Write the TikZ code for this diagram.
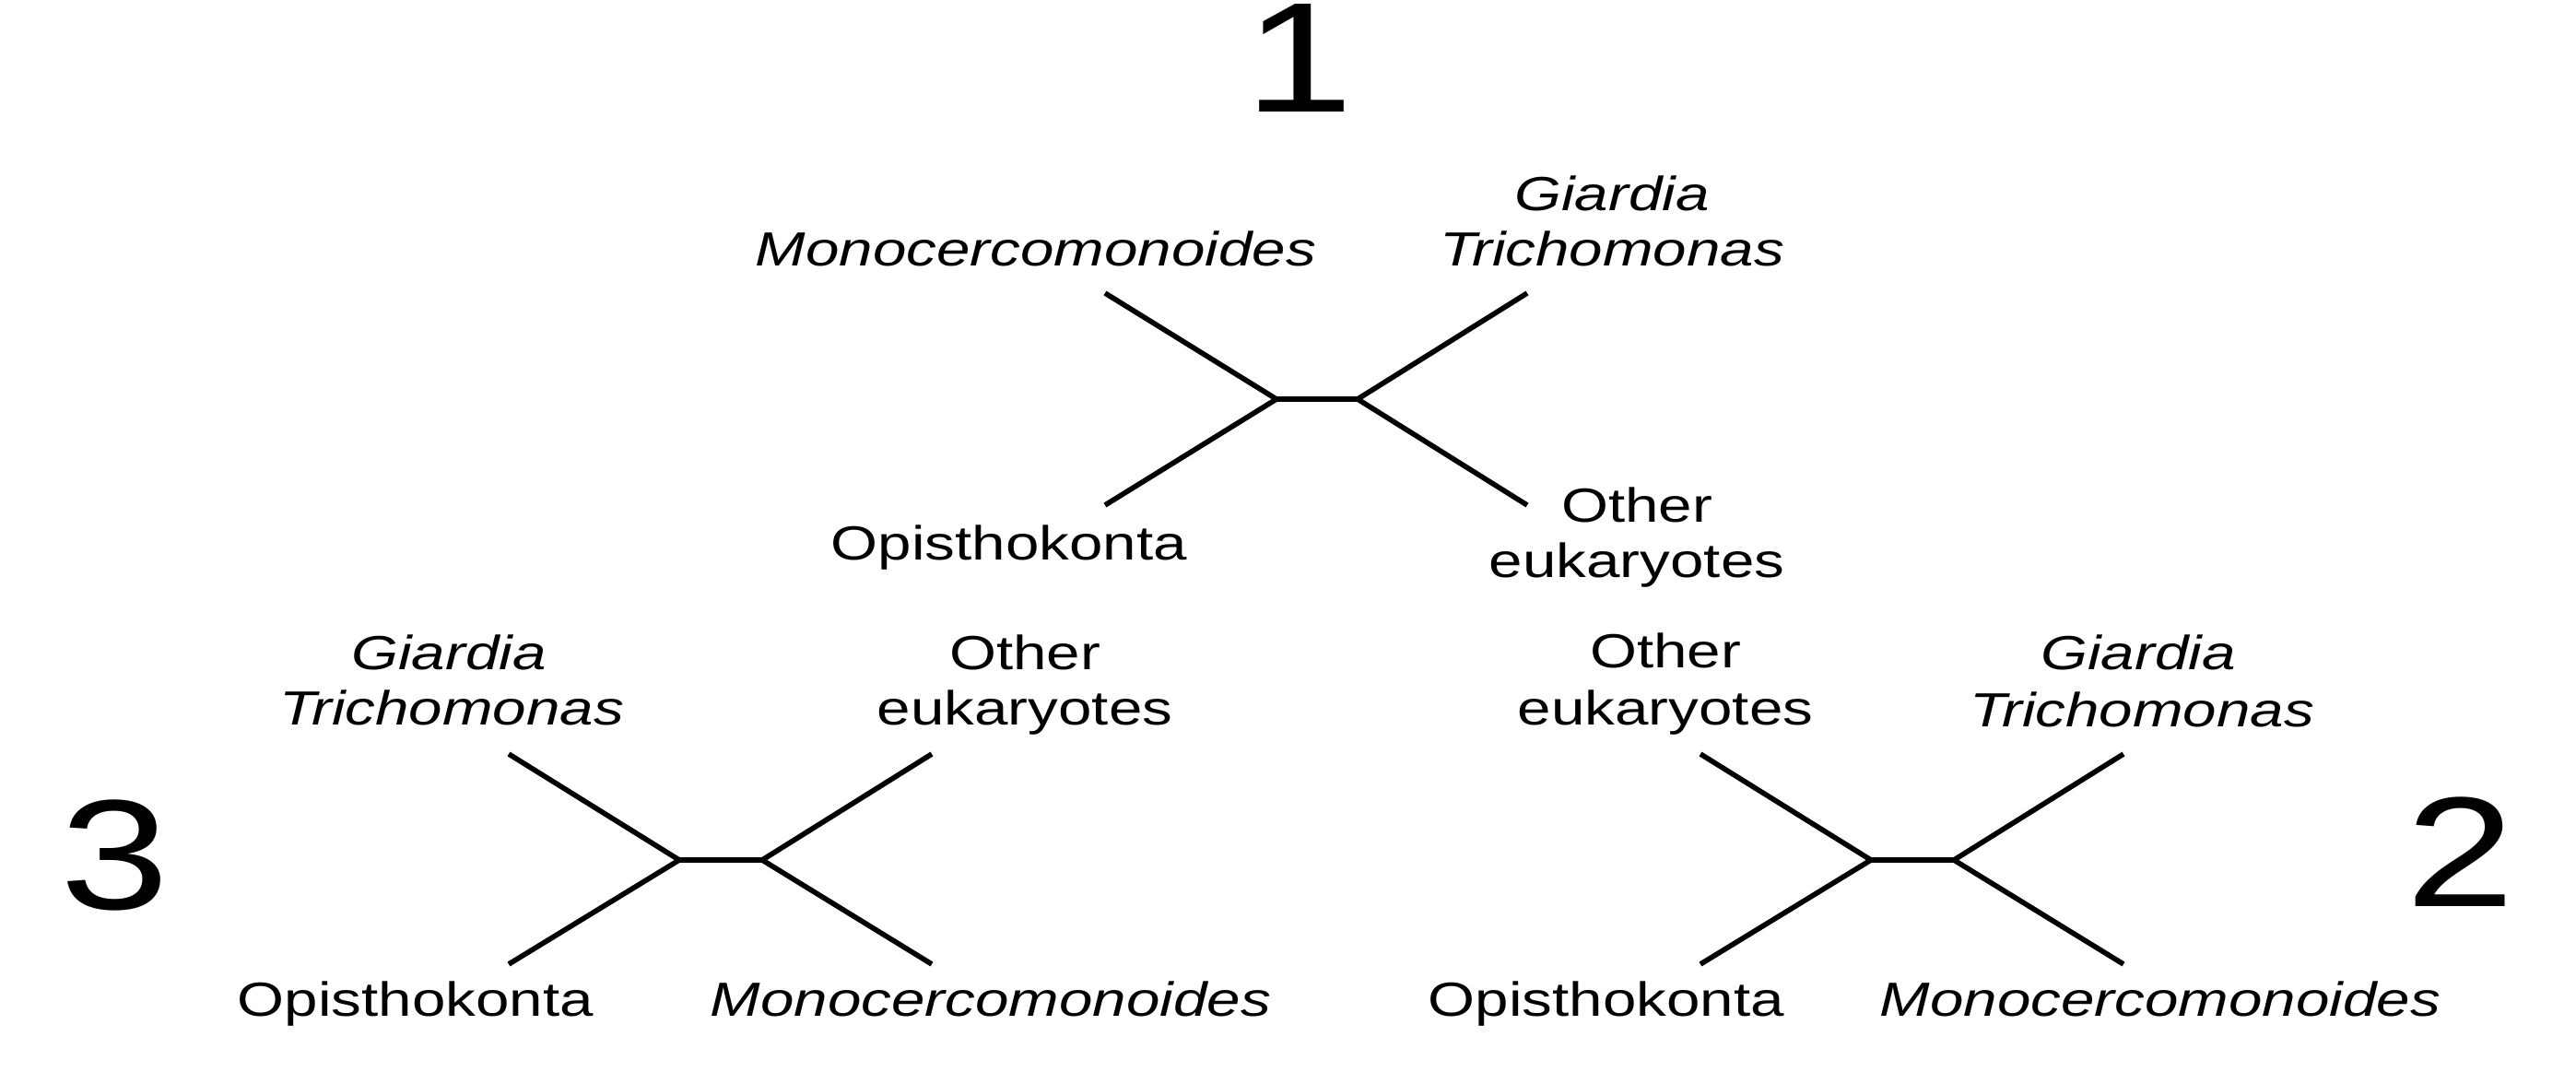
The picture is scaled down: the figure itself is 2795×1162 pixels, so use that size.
\documentclass[tikz,border=0pt]{standalone}
\usepackage{fontspec}
\setmainfont{Liberation Sans}
\newcommand{\hstretch}[1]{\scalebox{1.26}[1]{#1}}
\newcommand{\dstretch}[1]{\scalebox{1.25}[1]{#1}}
\tikzset{
  br/.style={line width=2.8pt, line join=miter, line cap=butt},
  lab/.style={anchor=base, inner sep=0pt, font=\fontsize{26}{30}\selectfont},
  num/.style={anchor=base, inner sep=0pt, font=\fontsize{85}{90}\selectfont},
}
\begin{document}
\begin{tikzpicture}[x=0.5pt,y=-0.5pt]
\useasboundingbox (0,0) rectangle (2795,1162);
% ---------- tree 1 ----------
\coordinate (a1) at (1385,433);
\coordinate (b1) at (1473,433);
\coordinate (a1u) at (1199,318);
\coordinate (a1d) at (1199,548);
\coordinate (b1u) at (1657,318);
\coordinate (b1d) at (1657,548);
\draw[br] (a1u) -- (a1) -- (a1d);
\draw[br] (b1u) -- (b1) -- (b1d);
\draw[br] (a1) -- (b1);
\node[num] (n1) at (1410,121) {\dstretch{1}};
\node[lab] (t1m) at (1124,288) {\hstretch{\itshape Monocercomonoides}};
\node[lab] (t1g) at (1749,228) {\hstretch{\itshape Giardia}};
\node[lab] (t1t) at (1749,288) {\hstretch{\itshape Trichomonas}};
\node[lab] (t1o) at (1095,607) {\hstretch{Opisthokonta}};
\node[lab] (t1e1) at (1776,566) {\hstretch{Other}};
\node[lab] (t1e2) at (1776,626) {\hstretch{eukaryotes}};
% ---------- tree 3 ----------
\coordinate (a3) at (737,933);
\coordinate (b3) at (827,933);
\coordinate (a3u) at (552,818);
\coordinate (a3d) at (552,1046);
\coordinate (b3u) at (1011,818);
\coordinate (b3d) at (1011,1046);
\draw[br] (a3u) -- (a3) -- (a3d);
\draw[br] (b3u) -- (b3) -- (b3d);
\draw[br] (a3) -- (b3);
\node[num] (n3) at (125,986) {\dstretch{3}};
\node[lab] (t3g) at (487,726) {\hstretch{\itshape Giardia}};
\node[lab] (t3t) at (490,786) {\hstretch{\itshape Trichomonas}};
\node[lab] (t3e1) at (1112,726) {\hstretch{Other}};
\node[lab] (t3e2) at (1112,786) {\hstretch{eukaryotes}};
\node[lab] (t3o) at (451,1102) {\hstretch{Opisthokonta}};
\node[lab] (t3m) at (1075,1102) {\hstretch{\itshape Monocercomonoides}};
% ---------- tree 2 ----------
\coordinate (a2) at (2030,933);
\coordinate (b2) at (2120,933);
\coordinate (a2u) at (1845,818);
\coordinate (a2d) at (1845,1046);
\coordinate (b2u) at (2304,818);
\coordinate (b2d) at (2304,1046);
\draw[br] (a2u) -- (a2) -- (a2d);
\draw[br] (b2u) -- (b2) -- (b2d);
\draw[br] (a2) -- (b2);
\node[num] (n2) at (2670,983) {\dstretch{2}};
\node[lab] (t2e1) at (1807,724) {\hstretch{Other}};
\node[lab] (t2e2) at (1807,786) {\hstretch{eukaryotes}};
\node[lab] (t2g) at (2320,726) {\hstretch{\itshape Giardia}};
\node[lab] (t2t) at (2324,788) {\hstretch{\itshape Trichomonas}};
\node[lab] (t2o) at (1743,1102) {\hstretch{Opisthokonta}};
\node[lab] (t2m) at (2344,1102) {\hstretch{\itshape Monocercomonoides}};
\end{tikzpicture}
\end{document}
